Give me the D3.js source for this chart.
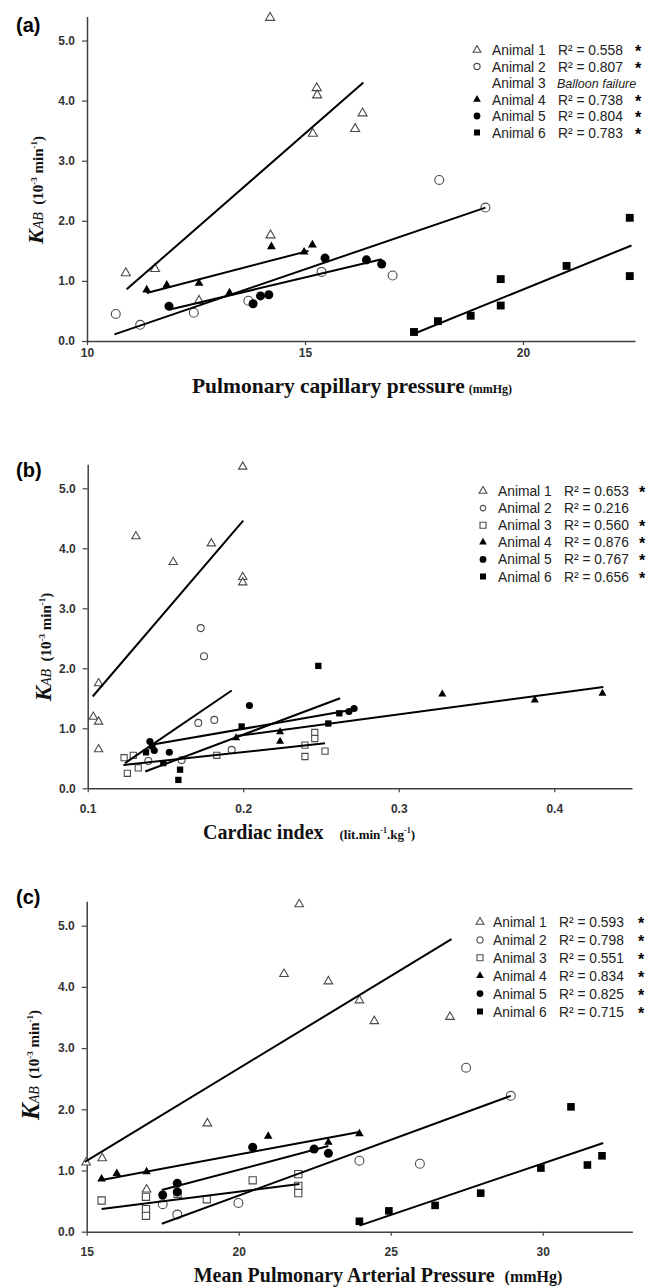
<!DOCTYPE html>
<html>
<head>
<meta charset="utf-8">
<script src="https://cdn.jsdelivr.net/npm/d3@7"></script>
<style>
	body { margin: 0; background: #fff; }
	svg { display: block; }
</style>
</head>
<body>
<div id="chart"></div>
<script>
(function() {
	"use strict";

	var animals = ["Animal 1", "Animal 2", "Animal 3", "Animal 4", "Animal 5", "Animal 6"];
	var kabTicks = [0, 1, 2, 3, 4, 5];

	// (a) pulmonary capillary pressure, mmHg
	var pcpTicks = [10, 15, 20];
	var pcpR2 = ["R\u00b2 = 0.558", "R\u00b2 = 0.807", "Balloon failure", "R\u00b2 = 0.738", "R\u00b2 = 0.804", "R\u00b2 = 0.783"];
	var pcpStar = [1, 1, 0, 1, 1, 1];
	var pcpA1 = [[10.89, 1.13], [11.56, 1.20], [12.57, 0.67], [14.20, 5.38], [14.21, 1.76], [15.27, 4.21], [15.28, 4.09], [15.18, 3.45], [16.32, 3.79], [16.15, 3.53]];
	var pcpA2 = [[10.66, 0.45], [11.22, 0.27], [12.45, 0.47], [13.70, 0.67], [15.38, 1.15], [17.01, 1.09], [18.08, 2.68], [19.14, 2.22]];
	var pcpA3 = [];
	var pcpA4 = [[11.37, 0.85], [11.83, 0.93], [12.57, 0.96], [13.27, 0.80], [14.23, 1.57], [14.98, 1.48], [15.17, 1.60]];
	var pcpA5 = [[11.88, 0.58], [13.81, 0.62], [13.98, 0.75], [14.17, 0.77], [15.46, 1.38], [16.41, 1.35], [16.76, 1.28]];
	var pcpA6 = [[17.50, 0.15], [18.05, 0.33], [18.80, 0.42], [19.49, 1.03], [19.49, 0.59], [21.00, 1.25], [22.45, 2.05], [22.45, 1.08]];
	var pcpFits = [[10.91, 0.86, 16.34, 4.30], [10.63, 0.11, 19.14, 2.22], null, [11.37, 0.80, 15.08, 1.50], [11.88, 0.52, 16.76, 1.36], [17.50, 0.12, 22.49, 1.59]];

	// (b) cardiac index, lit.min-1.kg-1
	var ciTicks = [0.1, 0.2, 0.3, 0.4];
	var ciR2 = ["R\u00b2 = 0.653", "R\u00b2 = 0.216", "R\u00b2 = 0.560", "R\u00b2 = 0.876", "R\u00b2 = 0.767", "R\u00b2 = 0.656"];
	var ciStar = [1, 0, 1, 1, 1, 1];
	var ciA1 = [[0.1997, 5.36], [0.131, 4.20], [0.1795, 4.08], [0.155, 3.77], [0.1997, 3.52], [0.1997, 3.43], [0.107, 1.75], [0.1036, 1.19], [0.107, 1.11], [0.107, 0.65]];
	var ciA2 = [[0.1727, 2.67], [0.1748, 2.20], [0.1711, 1.09], [0.1814, 1.14], [0.1926, 0.64], [0.1604, 0.47], [0.139, 0.455]];
	var ciA3 = [[0.1234, 0.51], [0.1293, 0.55], [0.1255, 0.25], [0.1325, 0.34], [0.183, 0.55], [0.246, 0.93], [0.246, 0.83], [0.2397, 0.72], [0.2397, 0.53], [0.2526, 0.62]];
	var ciA4 = [[0.1954, 0.84], [0.2237, 0.94], [0.2237, 0.78], [0.328, 1.57], [0.3875, 1.47], [0.431, 1.58]];
	var ciA5 = [[0.140, 0.78], [0.1414, 0.70], [0.1428, 0.63], [0.1525, 0.60], [0.204, 1.38], [0.268, 1.28], [0.2713, 1.33]];
	var ciA6 = [[0.1375, 0.60], [0.1486, 0.42], [0.1594, 0.31], [0.1583, 0.14], [0.199, 1.03], [0.2483, 2.04], [0.2547, 1.08], [0.2618, 1.25]];
	var ciFits = [[0.1032, 1.53, 0.2, 4.46], [0.124, 0.42, 0.1926, 1.63], [0.123, 0.39, 0.2526, 0.75], [0.1954, 0.87, 0.4316, 1.69], [0.140, 0.72, 0.273, 1.32], [0.137, 0.28, 0.2623, 1.50]];

	// (c) mean pulmonary arterial pressure, mmHg
	var mpapTicks = [15, 20, 25, 30];
	var mpapR2 = ["R\u00b2 = 0.593", "R\u00b2 = 0.798", "R\u00b2 = 0.551", "R\u00b2 = 0.834", "R\u00b2 = 0.825", "R\u00b2 = 0.715"];
	var mpapStar = [1, 1, 1, 1, 1, 1];
	var mpapA1 = [[14.98, 1.13], [15.51, 1.20], [16.97, 0.69], [18.97, 1.77], [21.49, 4.21], [21.99, 5.35], [22.95, 4.09], [23.97, 3.78], [24.46, 3.44], [26.95, 3.51]];
	var mpapA2 = [[17.50, 0.45], [17.98, 0.28], [19.99, 0.47], [23.97, 1.16], [25.96, 1.11], [27.48, 2.68], [28.95, 2.22]];
	var mpapA3 = [[15.49, 0.51], [16.95, 0.57], [16.95, 0.37], [16.95, 0.26], [17.99, 0.62], [18.95, 0.53], [20.46, 0.84], [21.96, 0.94], [21.96, 0.75], [21.96, 0.63]];
	var mpapA4 = [[15.49, 0.86], [15.99, 0.95], [16.97, 0.98], [20.97, 1.56], [22.95, 1.46], [23.97, 1.60]];
	var mpapA5 = [[17.50, 0.60], [17.98, 0.79], [17.98, 0.65], [20.46, 1.38], [22.48, 1.35], [22.95, 1.28]];
	var mpapA6 = [[23.97, 0.17], [24.94, 0.34], [26.46, 0.43], [27.96, 0.63], [29.94, 1.04], [30.93, 2.04], [31.47, 1.09], [31.95, 1.24]];
	var mpapFits = [[14.94, 1.14, 27.0, 4.78], [17.47, 0.13, 28.95, 2.22], [15.49, 0.37, 22.0, 0.78], [15.49, 0.845, 23.97, 1.63], [17.47, 0.68, 22.95, 1.40], [23.97, 0.10, 31.99, 1.45]];

	var width = 659, height = 1287;
	var sans = "'Liberation Sans', Arial, sans-serif";
	var serif = "'Liberation Serif', 'Times New Roman', serif";

	// marker style per animal: open triangle, open circle, open square, then filled
	var shapes = [d3.symbolTriangle, d3.symbolCircle, d3.symbolSquare, d3.symbolTriangle, d3.symbolCircle, d3.symbolSquare];
	var filled = [false, false, false, true, true, true];

	var panels = [
		{
			letter: "(a)", letterY: 32,
			series: [pcpA1, pcpA2, pcpA3, pcpA4, pcpA5, pcpA6], fits: pcpFits, r2: pcpR2, star: pcpStar,
			xDomain: [10, 22.57], xTicks: pcpTicks, xFmt: d3.format("d"),
			left: 87, right: 635, bottom: 341, top: 16.5, xPad: 3,
			sizes: [36, 62, 58, 34, 64, 62], legSizes: [26, 30, 36, 26, 36, 36],
			leg: { sym: 477, name: 492, r2: 558, star: 638, y0: 50, dy: 16.5 },
			yLab: { x: 43, y: 190, k: 22 },
			xLab: { x: 352, y: 393, main: "Pulmonary capillary pressure", size: 21.5, unit: "(mmHg)", unitSize: 12, gap: 4 }
		},
		{
			letter: "(b)", letterY: 477,
			series: [ciA1, ciA2, ciA3, ciA4, ciA5, ciA6], fits: ciFits, r2: ciR2, star: ciStar,
			xDomain: [0.1, 0.45], xTicks: ciTicks, xFmt: d3.format(".1f"),
			left: 87.7, right: 632, bottom: 788.3, top: 464.3, xPad: 12,
			sizes: [30, 38, 38, 28, 40, 40], legSizes: [26, 24, 36, 26, 36, 36],
			leg: { sym: 483, name: 498, r2: 564, star: 642, y0: 491, dy: 17.1 },
			yLab: { x: 51, y: 647, k: 23 },
			xLab: { x: 309, y: 839, main: "Cardiac index", size: 20, unit: "(lit.min", unitSize: 13, gap: 16, ci: true }
		},
		{
			letter: "(c)", letterY: 904,
			series: [mpapA1, mpapA2, mpapA3, mpapA4, mpapA5, mpapA6], fits: mpapFits, r2: mpapR2, star: mpapStar,
			xDomain: [15, 32.95], xTicks: mpapTicks, xFmt: d3.format("d"),
			left: 86.7, right: 632.4, bottom: 1231.7, top: 901.2, xPad: 12,
			sizes: [32, 62, 52, 32, 64, 58], legSizes: [26, 30, 36, 26, 36, 36],
			leg: { sym: 480, name: 493, r2: 559, star: 641, y0: 922, dy: 17.9 },
			yLab: { x: 39, y: 1065, k: 25 },
			xLab: { x: 378, y: 1282, main: "Mean Pulmonary Arterial Pressure", size: 20, unit: "(mmHg)", unitSize: 16, gap: 10 }
		}
	];

	var svg = d3.select("#chart").append("svg")
		.attr("width", width)
		.attr("height", height);

	svg.append("rect")
		.attr("width", width)
		.attr("height", height)
		.attr("fill", "#fff");

	function marker(sel, i, size) {
		sel.attr("d", d3.symbol().type(shapes[i]).size(size))
			.attr("fill", filled[i] ? "#000" : "#fff")
			.attr("stroke", filled[i] ? "none" : "#4a4a4a")
			.attr("stroke-width", 1.1);
	}

	function drawPanel(p) {
		var g = svg.append("g");

		var x = d3.scaleLinear().domain(p.xDomain).range([p.left, p.right]);
		var y = d3.scaleLinear().domain([0, 5.4]).range([p.bottom, p.top]);

		var xAxis = g.append("g")
			.attr("transform", "translate(0," + p.bottom + ")")
			.call(d3.axisBottom(x).tickValues(p.xTicks).tickFormat(p.xFmt).tickSize(4).tickSizeOuter(0).tickPadding(p.xPad));

		var yAxis = g.append("g")
			.attr("transform", "translate(" + p.left + ",0)")
			.call(d3.axisLeft(y).tickValues(kabTicks).tickFormat(d3.format(".1f")).tickSize(5).tickSizeOuter(0).tickPadding(7));

		[xAxis, yAxis].forEach(function(ax) {
			ax.attr("font-family", sans).attr("font-size", 12).attr("font-weight", "bold");
			ax.selectAll(".domain").attr("stroke", "#404040").attr("stroke-width", 1.5);
			ax.selectAll(".tick line").attr("stroke", "#404040").attr("stroke-width", 1.2);
			ax.selectAll(".tick text").attr("fill", "#333");
		});

		// data points
		p.series.forEach(function(pts, i) {
			g.append("g").selectAll("path")
				.data(pts)
				.enter()
				.append("path")
				.attr("transform", function(d) {
					return "translate(" + x(d[0]) + "," + y(d[1]) + ")";
				})
				.call(marker, i, p.sizes[i]);
		});

		// regression lines
		g.append("g").selectAll("line")
			.data(p.fits.filter(function(f) { return f; }))
			.enter()
			.append("line")
			.attr("x1", function(d) { return x(d[0]); })
			.attr("y1", function(d) { return y(d[1]); })
			.attr("x2", function(d) { return x(d[2]); })
			.attr("y2", function(d) { return y(d[3]); })
			.attr("stroke", "#000")
			.attr("stroke-width", 2);

		// legend
		var leg = g.append("g")
			.attr("font-family", sans)
			.attr("font-size", 13.8)
			.attr("fill", "#222");

		animals.forEach(function(name, i) {
			var ry = p.leg.y0 + i * p.leg.dy;
			if (p.series[i].length) {
				leg.append("path")
					.attr("transform", "translate(" + p.leg.sym + "," + ry + ")")
					.call(marker, i, p.legSizes[i]);
			}
			leg.append("text")
				.attr("x", p.leg.name)
				.attr("y", ry + 5)
				.text(name);
			var isNote = p.r2[i].indexOf("R") !== 0;
			leg.append("text")
				.attr("x", p.leg.r2 - (isNote ? 1 : 0))
				.attr("y", ry + 5)
				.attr("font-style", isNote ? "italic" : null)
				.attr("font-size", isNote ? 12.5 : null)
				.text(p.r2[i]);
			if (p.star[i]) {
				leg.append("text")
					.attr("x", p.leg.star)
					.attr("y", ry + 7)
					.attr("text-anchor", "middle")
					.attr("font-size", 16)
					.attr("font-weight", "bold")
					.attr("fill", "#000")
					.text("*");
			}
		});

		// panel letter
		svg.append("text")
			.attr("x", 16)
			.attr("y", p.letterY)
			.attr("font-family", sans)
			.attr("font-size", 20)
			.attr("font-weight", "bold")
			.text(p.letter);

		// y axis title
		var yt = svg.append("text")
			.attr("transform", "translate(" + p.yLab.x + "," + p.yLab.y + ") rotate(-90)")
			.attr("text-anchor", "middle")
			.attr("font-family", serif)
			.attr("font-weight", "bold")
			.attr("font-size", 15)
			.attr("fill", "#111");
		yt.append("tspan").attr("font-style", "italic").attr("font-size", p.yLab.k).text("K");
		yt.append("tspan").attr("font-style", "italic").attr("font-weight", "normal").attr("font-size", 14).text("AB");
		yt.append("tspan").text("\u00a0 (10");
		yt.append("tspan").attr("font-size", 9).attr("dy", -6).text("-3");
		yt.append("tspan").attr("dy", 6).text(" min");
		yt.append("tspan").attr("font-size", 9).attr("dy", -6).text("-1");
		yt.append("tspan").attr("dy", 6).text(")");

		// x axis title
		var xt = svg.append("text")
			.attr("x", p.xLab.x)
			.attr("y", p.xLab.y)
			.attr("text-anchor", "middle")
			.attr("font-family", serif)
			.attr("font-weight", "bold")
			.attr("font-size", p.xLab.size)
			.attr("fill", "#111");
		xt.append("tspan").text(p.xLab.main);
		xt.append("tspan").attr("dx", p.xLab.gap).attr("font-size", p.xLab.unitSize).text(p.xLab.unit);
		if (p.xLab.ci) {
			xt.append("tspan").attr("font-size", 8).attr("dy", -6).text("-1");
			xt.append("tspan").attr("font-size", 13).attr("dy", 6).text(".kg");
			xt.append("tspan").attr("font-size", 8).attr("dy", -6).text("-1");
			xt.append("tspan").attr("font-size", 13).attr("dy", 6).text(")");
		}
	}

	panels.forEach(drawPanel);

})();
</script>
</body>
</html>
